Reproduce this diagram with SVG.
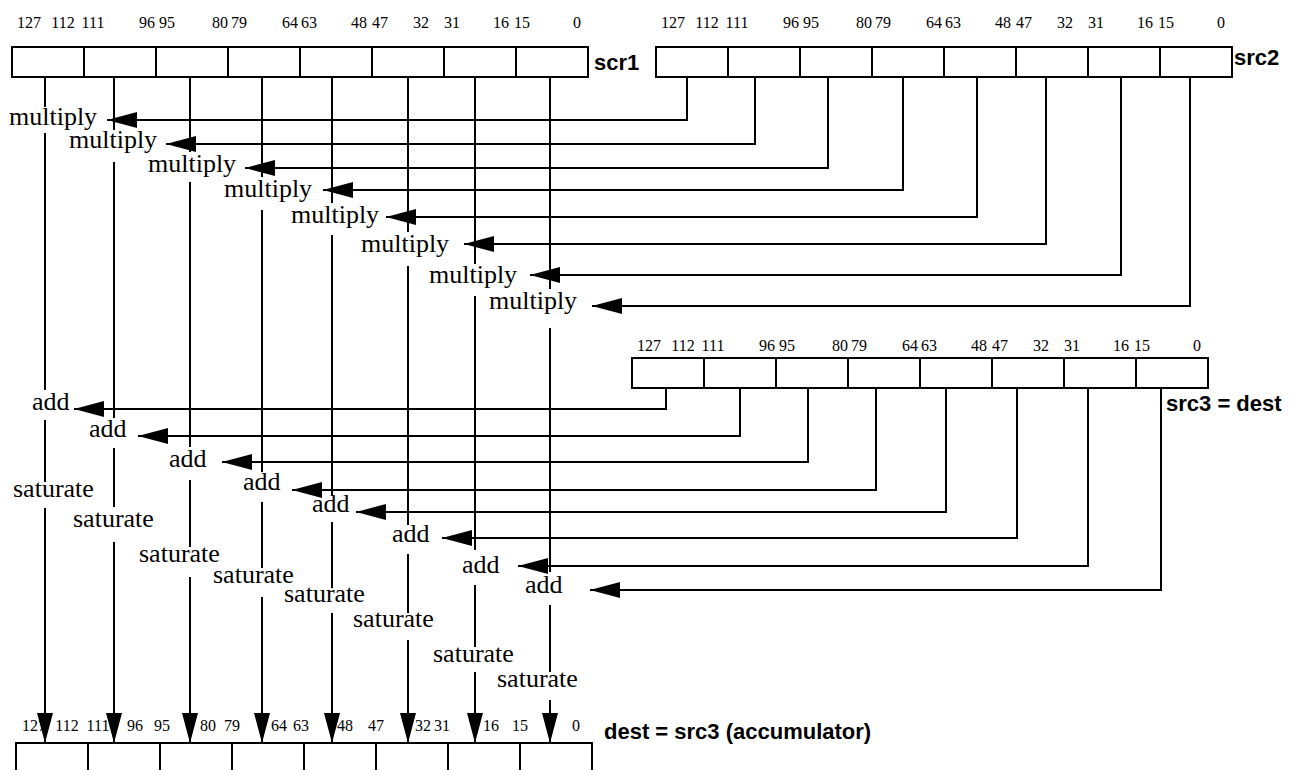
<svg xmlns="http://www.w3.org/2000/svg" width="1297" height="770" viewBox="0 0 1297 770">
<style>
.bx{fill:#fff;stroke:#000;stroke-width:2}
.dv{stroke:#000;stroke-width:2}
.ln{fill:none;stroke:#000;stroke-width:2}
.bit{font-family:"Liberation Serif","Times New Roman",serif;font-size:16px;text-anchor:middle;fill:#000}
.op{font-family:"Liberation Serif","Times New Roman",serif;font-size:26px;fill:#000}
.nm{font-family:"Liberation Sans",Arial,sans-serif;font-size:22px;font-weight:bold;fill:#000}
</style>
<defs>
<marker id="ah" markerUnits="userSpaceOnUse" markerWidth="30" markerHeight="16" viewBox="0 0 30 16" refX="30" refY="8" orient="auto"><path d="M0,0 L30,8 L0,16 Z" fill="#000"/></marker>
</defs>
<rect width="1297" height="770" fill="#fff"/>

<g id="scr1">
<rect class="bx" x="12" y="47" width="576" height="30"/>
<path class="dv" d="M84,47V77M156,47V77M228,47V77M300,47V77M372,47V77M444,47V77M516,47V77"/>
<g class="bit">
<text x="29" y="28">127</text><text x="63" y="28">112</text><text x="93" y="28">111</text><text x="147" y="28">96</text><text x="167" y="28">95</text><text x="220" y="28">80</text><text x="239" y="28">79</text><text x="290" y="28">64</text><text x="309" y="28">63</text><text x="359" y="28">48</text><text x="380" y="28">47</text><text x="421" y="28">32</text><text x="452" y="28">31</text><text x="501" y="28">16</text><text x="522" y="28">15</text><text x="577" y="28">0</text>
</g>
<text class="nm" x="594" y="70">scr1</text>
</g>

<g id="src2">
<rect class="bx" x="656" y="47" width="576" height="30"/>
<path class="dv" d="M728,47V77M800,47V77M872,47V77M944,47V77M1016,47V77M1088,47V77M1160,47V77"/>
<g class="bit">
<text x="673" y="28">127</text><text x="707" y="28">112</text><text x="737" y="28">111</text><text x="791" y="28">96</text><text x="811" y="28">95</text><text x="864" y="28">80</text><text x="883" y="28">79</text><text x="934" y="28">64</text><text x="953" y="28">63</text><text x="1003" y="28">48</text><text x="1024" y="28">47</text><text x="1065" y="28">32</text><text x="1096" y="28">31</text><text x="1145" y="28">16</text><text x="1166" y="28">15</text><text x="1221" y="28">0</text>
</g>
<text class="nm" x="1234" y="65">src2</text>
</g>

<g id="src3">
<rect class="bx" x="632" y="358" width="576" height="30"/>
<path class="dv" d="M704,358V388M776,358V388M848,358V388M920,358V388M992,358V388M1064,358V388M1136,358V388"/>
<g class="bit">
<text x="649" y="351">127</text><text x="683" y="351">112</text><text x="713" y="351">111</text><text x="767" y="351">96</text><text x="787" y="351">95</text><text x="840" y="351">80</text><text x="859" y="351">79</text><text x="910" y="351">64</text><text x="929" y="351">63</text><text x="979" y="351">48</text><text x="1000" y="351">47</text><text x="1041" y="351">32</text><text x="1072" y="351">31</text><text x="1121" y="351">16</text><text x="1142" y="351">15</text><text x="1197" y="351">0</text>
</g>
<text class="nm" x="1166" y="411">src3 = dest</text>
</g>

<g id="dest">
<rect class="bx" x="16" y="743" width="576" height="50"/>
<path class="dv" d="M88,743V770M160,743V770M232,743V770M304,743V770M376,743V770M448,743V770M520,743V770"/>
<g class="bit">
<text x="34" y="731">127</text><text x="67" y="731">112</text><text x="98" y="731">111</text><text x="135" y="731">96</text><text x="162" y="731">95</text><text x="208" y="731">80</text><text x="232" y="731">79</text><text x="279" y="731">64</text><text x="301" y="731">63</text><text x="345" y="731">48</text><text x="376" y="731">47</text><text x="423" y="731">32</text><text x="442" y="731">31</text><text x="491" y="731">16</text><text x="520" y="731">15</text><text x="576" y="731">0</text>
</g>
<text class="nm" x="604" y="739">dest = src3 (accumulator)</text>
</g>

<g id="multiply-ops">
<g id="mul0"><text class="op" x="9" y="125">multiply</text></g>
<g id="mul1"><text class="op" x="69" y="148">multiply</text></g>
<g id="mul2"><text class="op" x="148" y="172">multiply</text></g>
<g id="mul3"><text class="op" x="224" y="197">multiply</text></g>
<g id="mul4"><text class="op" x="291" y="223">multiply</text></g>
<g id="mul5"><text class="op" x="361" y="252">multiply</text></g>
<g id="mul6"><text class="op" x="429" y="283">multiply</text></g>
<g id="mul7"><text class="op" x="489" y="309">multiply</text></g>
</g>

<g id="add-ops">
<g id="add0"><text class="op" x="32" y="410">add</text></g>
<g id="add1"><text class="op" x="89" y="437">add</text></g>
<g id="add2"><text class="op" x="169" y="467">add</text></g>
<g id="add3"><text class="op" x="243" y="490">add</text></g>
<g id="add4"><text class="op" x="312" y="512">add</text></g>
<g id="add5"><text class="op" x="392" y="542">add</text></g>
<g id="add6"><text class="op" x="462" y="573">add</text></g>
<g id="add7"><text class="op" x="525" y="593">add</text></g>
</g>

<g id="saturate-ops">
<g id="sat0"><text class="op" x="13" y="497">saturate</text></g>
<g id="sat1"><text class="op" x="73" y="527">saturate</text></g>
<g id="sat2"><text class="op" x="139" y="562">saturate</text></g>
<g id="sat3"><text class="op" x="213" y="583">saturate</text></g>
<g id="sat4"><text class="op" x="284" y="602">saturate</text></g>
<g id="sat5"><text class="op" x="353" y="627">saturate</text></g>
<g id="sat6"><text class="op" x="433" y="662">saturate</text></g>
<g id="sat7"><text class="op" x="497" y="687">saturate</text></g>
</g>

<g id="connectors" class="ln">
<path d="M45,77V107M114,77V130M190,77V152M262,77V177M332,77V203M408,77V232M475,77V264M550,77V289"/>
<path d="M687,77V120H107" marker-end="url(#ah)"/>
<path d="M755,77V144H166" marker-end="url(#ah)"/>
<path d="M828,77V168H245" marker-end="url(#ah)"/>
<path d="M903,77V190H323" marker-end="url(#ah)"/>
<path d="M977,77V217H386" marker-end="url(#ah)"/>
<path d="M1046,77V244H464" marker-end="url(#ah)"/>
<path d="M1121,77V275H530" marker-end="url(#ah)"/>
<path d="M1190,77V306H592" marker-end="url(#ah)"/>
<path d="M45,133V390M114,162V418M190,182V447M262,210V472M332,235V496M408,266V525M475,296V550M550,328V572"/>
<path d="M666,388V409H74" marker-end="url(#ah)"/>
<path d="M740,388V436H138" marker-end="url(#ah)"/>
<path d="M808,388V462H222" marker-end="url(#ah)"/>
<path d="M876,388V490H292" marker-end="url(#ah)"/>
<path d="M946,388V512H356" marker-end="url(#ah)"/>
<path d="M1017,388V538H442" marker-end="url(#ah)"/>
<path d="M1088,388V566H518" marker-end="url(#ah)"/>
<path d="M1161,388V590H590" marker-end="url(#ah)"/>
<path d="M45,420V482M114,448V507M190,480V547M262,502V568M332,522V588M408,554V613M475,585V647M550,605V672"/>
<path d="M45,508V743" marker-end="url(#ah)"/>
<path d="M114,542V743" marker-end="url(#ah)"/>
<path d="M190,577V743" marker-end="url(#ah)"/>
<path d="M262,597V743" marker-end="url(#ah)"/>
<path d="M332,613V743" marker-end="url(#ah)"/>
<path d="M408,640V743" marker-end="url(#ah)"/>
<path d="M475,672V743" marker-end="url(#ah)"/>
<path d="M550,700V743" marker-end="url(#ah)"/>
</g>
</svg>
